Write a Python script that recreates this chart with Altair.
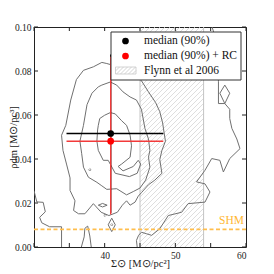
import altair as alt
import pandas as pd
import numpy as np

# ---------------- data ----------------
x_ticks = [30, 35, 40, 45, 50, 55, 60]
y_ticks = [0.00, 0.02, 0.04, 0.06, 0.08, 0.10]

med_x, med_y = 40.85, 0.0516
med_xlo, med_xhi = 34.6, 48.3
med_ylo, med_yhi = 0.0155, 0.0875

rc_x, rc_y = 40.85, 0.0481
rc_xlo, rc_xhi = 34.6, 48.3
rc_ylo, rc_yhi = 0.0148, 0.0865

flynn_lo, flynn_hi = 45.0, 54.0
shm_level = 0.008

legend_labels = ["median (90%)", "median (90%) + RC", "Flynn et al 2006"]

# contour paths (x, y)
outer_x = [35.1, 35.1, 34.6, 34.1, 33.9, 34.5, 35.2, 36.0, 37.0, 38.4, 39.6, 40.3, 41.5, 44.0, 45.2, 46.2, 47.2,
           47.8, 48.2, 48.4, 48.6, 48.1, 47.8, 48.1, 47.1, 46.2, 45.2, 44.75, 44.3, 43.6, 43.1, 42.5, 41.8,
           40.6, 39.5, 38.4, 37.2, 36.3, 35.6, 35.8, 35.1]
outer_y = [0.0257, 0.0314, 0.0377, 0.0439, 0.0508, 0.0553, 0.0668, 0.0761, 0.0803, 0.0819, 0.0839, 0.0834,
           0.0823, 0.0792, 0.0756, 0.0705, 0.0657, 0.0615, 0.0564, 0.0522, 0.0481, 0.0439, 0.0397, 0.0335,
           0.0304, 0.0283, 0.0247, 0.0231, 0.0204, 0.0190, 0.0210, 0.0190, 0.0158, 0.0143, 0.0158, 0.0197,
           0.0151, 0.0151, 0.0166, 0.0210, 0.0257]

middle_x = [36.5, 37.0, 37.5, 38.2, 39.1, 39.6, 40.8, 41.7, 42.6, 43.6, 44.5, 45.2, 45.7, 46.2, 46.4, 46.2, 46.4,
            45.8, 45.0, 44.05, 43.1, 41.7, 40.3, 39.6, 38.9, 37.7, 37.0, 36.75, 36.5]
middle_y = [0.0481, 0.0553, 0.0647, 0.0699, 0.0728, 0.0736, 0.0750, 0.0736, 0.0705, 0.0682, 0.0668, 0.0626,
            0.0539, 0.0491, 0.0439, 0.0408, 0.0363, 0.0304, 0.0268, 0.0252, 0.0237, 0.0265, 0.0262, 0.0278,
            0.0294, 0.0317, 0.0363, 0.0424, 0.0481]

inner_x = [38.9, 39.0, 39.1, 39.3, 40.0, 40.8, 41.5, 42.4, 43.1, 43.6, 43.8, 43.6, 42.4, 41.9, 42.6, 44.05,
           44.75, 45.1, 44.6, 43.5, 41.5, 40.5, 39.8, 39.1, 38.9]
inner_y = [0.0481, 0.0532, 0.0553, 0.0584, 0.0599, 0.0611, 0.0605, 0.0574, 0.0553, 0.0508, 0.0460, 0.0408,
           0.0377, 0.0366, 0.0346, 0.0366, 0.0394, 0.0377, 0.0335, 0.0320, 0.0335, 0.0394, 0.0394, 0.0439,
           0.0481]

right_x = [55.2, 55.6, 56.0, 56.1, 56.1, 57.0, 57.7, 57.7, 58.0, 58.7, 59.15, 57.7, 56.8, 56.3, 55.15, 54.2,
           53.0, 54.2, 54.9, 54.2, 51.8, 50.9, 49.0, 47.8, 46.65, 45.95, 45.2, 44.8, 44.5, 44.6]
right_y = [0.1000, 0.0958, 0.0844, 0.0751, 0.0652, 0.0652, 0.0626, 0.0584, 0.0539, 0.0491, 0.0447, 0.0402,
           0.0341, 0.0394, 0.0402, 0.0349, 0.0296, 0.0287, 0.0250, 0.0204, 0.0197, 0.0158, 0.0143, 0.0083,
           0.0053, 0.0060, 0.0067, 0.0053, 0.0030, 0.0]

corner_x = [30.0, 30.4, 31.3, 31.6, 30.8, 31.1, 32.2, 33.9, 33.9]
corner_y = [0.0256, 0.0205, 0.0203, 0.0160, 0.0135, 0.0110, 0.0092, 0.0092, 0.0]

bump_x = [36.7, 37.1, 37.2, 37.6, 37.9, 38.1]
bump_y = [0.0, 0.0046, 0.0085, 0.0095, 0.0050, 0.0]

diamond_r_x = [57.0, 57.7, 57.0, 56.3, 57.0]
diamond_r_y = [0.0736, 0.0699, 0.0652, 0.0699, 0.0736]

diamond_b_x = [41.0, 41.5, 41.0, 40.5, 41.0]
diamond_b_y = [0.0131, 0.0101, 0.0070, 0.0101, 0.0131]

lens_x = [39.1, 39.7, 40.35, 39.7, 39.1]
lens_y = [0.0190, 0.0198, 0.0190, 0.0182, 0.0190]

dots_x = [37.9, 40.05, 41.0]
dots_y = [0.0351, 0.0144, 0.0101]

# ---------------- frames ----------------
W, H = 212, 220
X_DOM, Y_DOM = [30, 60], [0, 0.1]
xs = alt.Scale(domain=X_DOM, nice=False, zero=False)
ys = alt.Scale(domain=Y_DOM, nice=False, zero=False)
SERIF = "Liberation Serif"
GRAY = "#707070"

paths = [("outer", outer_x, outer_y), ("middle", middle_x, middle_y), ("inner", inner_x, inner_y),
         ("right", right_x, right_y), ("corner", corner_x, corner_y), ("bump", bump_x, bump_y),
         ("dr", diamond_r_x, diamond_r_y), ("db", diamond_b_x, diamond_b_y), ("lens", lens_x, lens_y)]
rows = []
for name, px, py in paths:
    for i, (a, b) in enumerate(zip(px, py)):
        rows.append({"id": name, "o": i, "x": a, "y": b})
cont_df = pd.DataFrame(rows)

# hatch lines (45 degree in pixel space) inside Flynn band
k = (Y_DOM[1] / H) / ((X_DOM[1] - X_DOM[0]) / W)
step = 5 * (X_DOM[1] - X_DOM[0]) / W
hrows = []
span = Y_DOM[1] / k
c = flynn_lo - span
while c < flynn_hi:
    xa = max(flynn_lo, c)
    xb = min(flynn_hi, c + span)
    if xb > xa:
        hrows.append({"x": xa, "y": k * (xa - c), "x2": xb, "y2": k * (xb - c)})
    c += step
hatch_df = pd.DataFrame(hrows)

base_x = alt.X("x:Q", scale=xs, title="Σ⊙ [M⊙/pc²]",
               axis=alt.Axis(values=x_ticks, ticks=False, domain=False, grid=False, labelPadding=3,
                             labelExpr="datum.value == 30 ? '' : datum.label",
                             titleX=W / 2, titleY=16, titleBaseline="middle", titleAlign="center"))
base_y = alt.Y("y:Q", scale=ys, title="ρdm [M⊙/pc³]",
               axis=alt.Axis(values=y_ticks, ticks=False, domain=False, grid=False, format=".2f",
                             labelPadding=3, titleX=-21, titleY=H / 2, titleAngle=270,
                             titleBaseline="middle", titleAlign="center"))

hatch = alt.Chart(hatch_df).mark_rule(color="#d6d6d6", strokeWidth=0.8).encode(
    x=base_x, y=base_y, x2="x2:Q", y2="y2:Q")

edges_df = pd.DataFrame({"x": [flynn_lo, flynn_hi]})
edges = alt.Chart(edges_df).mark_rule(color="#c4c4c4", strokeWidth=1).encode(x=alt.X("x:Q", scale=xs))

contours = alt.Chart(cont_df).mark_line(color=GRAY, strokeWidth=1, clip=True).encode(
    x=alt.X("x:Q", scale=xs), y=alt.Y("y:Q", scale=ys), detail="id:N", order="o:Q")

dots = alt.Chart(pd.DataFrame({"x": dots_x, "y": dots_y})).mark_point(
    shape="diamond", size=6, color=GRAY, filled=False, strokeWidth=1).encode(
    x=alt.X("x:Q", scale=xs), y=alt.Y("y:Q", scale=ys))

shm_df = pd.DataFrame({"y": [shm_level], "t": ["SHM"], "x": [X_DOM[1]]})
shm = alt.Chart(shm_df).mark_rule(color="#ffbe4d", strokeWidth=1.6, strokeDash=[4, 2.5]).encode(
    y=alt.Y("y:Q", scale=ys))
shm_txt = alt.Chart(shm_df).mark_text(font=SERIF, fontSize=11.5, color="#ffb733", align="right",
                                      baseline="bottom", dx=-2, dy=-3).encode(
    x=alt.X("x:Q", scale=xs), y=alt.Y("y:Q", scale=ys), text="t:N")

err_df = pd.DataFrame({
    "k": ["med", "rc"],
    "x": [med_x, rc_x], "y": [med_y, rc_y],
    "xlo": [med_xlo, rc_xlo], "xhi": [med_xhi, rc_xhi],
    "ylo": [med_ylo, rc_ylo], "yhi": [med_yhi, rc_yhi],
})
err_med = err_df[err_df.k == "med"]
err_rc = err_df[err_df.k == "rc"]


def bars(df, color):
    h = alt.Chart(df).mark_rule(strokeWidth=1.4, color=color).encode(
        x=alt.X("xlo:Q", scale=xs), x2="xhi:Q", y=alt.Y("y:Q", scale=ys))
    v = alt.Chart(df).mark_rule(strokeWidth=1.4, color=color).encode(
        x=alt.X("x:Q", scale=xs), y=alt.Y("ylo:Q", scale=ys), y2="yhi:Q")
    return [h, v]


pt_med = alt.Chart(err_med).mark_circle(size=45, opacity=1, color="#000000").encode(
    x=alt.X("x:Q", scale=xs), y=alt.Y("y:Q", scale=ys))
pt_rc = alt.Chart(err_rc).mark_circle(size=45, opacity=1, color="#ff0000").encode(
    x=alt.X("x:Q", scale=xs), y=alt.Y("y:Q", scale=ys))

# ticks (inward) on all sides
xt = pd.DataFrame({"x": x_ticks})
yt = pd.DataFrame({"y": y_ticks})
tk = dict(color="#222222", strokeWidth=1)
ticks = [
    alt.Chart(xt).mark_rule(**tk).encode(x=alt.X("x:Q", scale=xs), y=alt.value(H), y2=alt.value(H - 4)),
    alt.Chart(xt).mark_rule(**tk).encode(x=alt.X("x:Q", scale=xs), y=alt.value(0), y2=alt.value(4)),
    alt.Chart(yt).mark_rule(**tk).encode(y=alt.Y("y:Q", scale=ys), x=alt.value(0), x2=alt.value(4)),
    alt.Chart(yt).mark_rule(**tk).encode(y=alt.Y("y:Q", scale=ys), x=alt.value(W), x2=alt.value(W - 4)),
]

# legend (manual)
one = pd.DataFrame({"a": [0]})
leg_box = alt.Chart(one).mark_rect(fill="white", stroke="#333333", strokeWidth=1).encode(
    x=alt.value(77), x2=alt.value(207), y=alt.value(5), y2=alt.value(53))
leg_txt_df = pd.DataFrame({"t": legend_labels, "yy": [14, 29, 43.5]})
leg_txt = alt.Chart(leg_txt_df).mark_text(font=SERIF, fontSize=11.5, align="left", baseline="middle",
                                          color="#111111").encode(
    x=alt.value(110), y=alt.Y("yy:Q", scale=None), text="t:N")
leg_pts_df = pd.DataFrame({"k": ["med", "rc"], "yy": [14, 29]})
leg_pts = alt.Chart(leg_pts_df).mark_circle(size=45, opacity=1).encode(
    x=alt.value(91.5), y=alt.Y("yy:Q", scale=None),
    color=alt.Color("k:N", scale=alt.Scale(domain=["med", "rc"], range=["#000000", "#ff0000"]), legend=None))
patch = alt.Chart(one).mark_rect(fill="white", stroke="#c8c8c8", strokeWidth=0.8).encode(
    x=alt.value(81.5), x2=alt.value(102), y=alt.value(40), y2=alt.value(47))
prow = []
off = 81.5 - 7
while off < 102:
    a0 = max(81.5, off)
    a1 = min(102, off + 7)
    if a1 > a0:
        prow.append({"px": a0, "py": 47 - (a0 - off), "px2": a1, "py2": 47 - (a1 - off)})
    off += 4
patch_h = alt.Chart(pd.DataFrame(prow)).mark_rule(color="#c8c8c8", strokeWidth=0.8).encode(
    x=alt.X("px:Q", scale=None), y=alt.Y("py:Q", scale=None), x2="px2:Q", y2="py2:Q")

chart = alt.layer(
    hatch, edges, contours, dots, shm, shm_txt, *bars(err_med, "#000000"), *bars(err_rc, "#f23a3a"),
    pt_med, pt_rc, *ticks, leg_box, leg_txt, leg_pts, patch, patch_h
).properties(
    width=W, height=H,
    padding={"left": 26, "top": 19, "right": 20, "bottom": 23},
    autosize=alt.AutoSizeParams(type="none"),
    background="white",
).configure_view(stroke="#222222", strokeWidth=1).configure_axis(
    labelFont=SERIF, titleFont=SERIF, labelFontSize=9.5, titleFontSize=10.5,
    labelColor="#222222", titleColor="#222222", titleFontWeight="normal"
)

chart.save("out.html", embed_options={"renderer": "svg", "actions": False})
